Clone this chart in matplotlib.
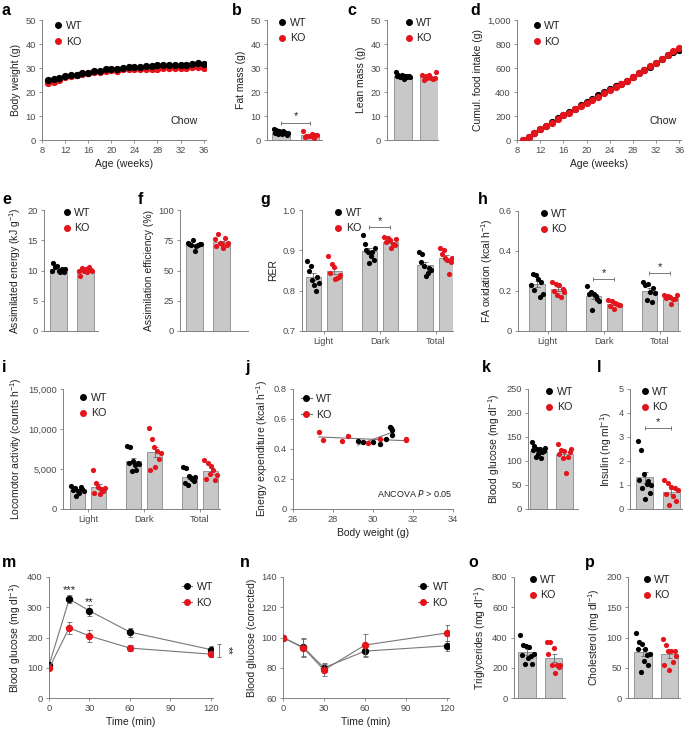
import numpy as np
import matplotlib.pyplot as plt
from matplotlib.lines import Line2D

plt.rcParams['font.family'] = ['Liberation Sans', 'DejaVu Sans']
plt.rcParams['mathtext.default'] = 'regular'

W, H = 685, 731
BLACK, RED = '#000000', '#e3141b'
BAR, BAREDGE = '#c8c8c8', '#8a8a8a'
SPINE, TICK, LAB, ERR, LINE = '#808080', '#4a4a4a', '#222222', '#666666', '#777777'

# ---------- data ----------
weeks = [9, 10, 11, 12, 13, 14, 15, 16, 17, 18, 19, 20, 21, 22,
         23, 24, 25, 26, 27, 28, 29, 30, 31, 32, 33, 34, 35, 36]
bw_wt = [25.0, 25.3, 26.0, 26.5, 27.0, 27.2, 27.8, 28.0, 28.6, 28.6, 29.4, 29.6, 29.5, 30.2,
         30.4, 30.5, 30.3, 30.8, 30.9, 31.1, 31.2, 31.2, 31.3, 31.3, 31.4, 31.6, 32.0, 31.7]
bw_ko = [23.8, 24.2, 24.9, 26.2, 26.6, 26.9, 27.5, 27.8, 28.2, 28.3, 28.8, 29.0, 28.8, 29.4,
         29.5, 29.4, 29.5, 29.4, 29.6, 29.7, 30.0, 30.0, 30.0, 30.1, 30.2, 30.3, 30.3, 30.2]

fat_wt = [4.5, 3.0, 4.2, 2.6, 3.8, 3.3, 2.4, 3.9, 3.5, 2.8, 2.2, 2.9]
fat_ko = [3.9, 1.4, 1.7, 1.8, 1.6, 2.5, 0.8, 2.0, 1.9]
lean_wt = [28.5, 26.5, 27.2, 26.2, 26.8, 27.0, 25.3, 26.8, 26.5, 26.2, 26.6, 26.4]
lean_ko = [27.0, 25.2, 26.8, 25.7, 26.9, 25.8, 25.3, 26.0, 28.3]

food_wt = [0, 28, 57, 90, 120, 150, 182, 212, 235, 262, 290, 318, 345, 372,
           400, 428, 450, 470, 495, 525, 555, 582, 612, 645, 675, 705, 730, 750]
food_ko = [0, 25, 55, 88, 118, 145, 175, 205, 228, 255, 282, 308, 335, 362,
           390, 418, 442, 465, 492, 522, 555, 582, 615, 645, 678, 708, 738, 765]

energy_wt = [9.9, 11.2, 10.5, 10.8, 10.0, 9.7, 10.2, 9.8, 10.3]
energy_ko = [10.0, 9.1, 10.4, 9.9, 10.2, 9.8, 10.6, 10.1, 10.0]
eff_wt = [73, 72, 71, 75, 66, 70, 71, 72, 72]
eff_ko = [76, 70, 80, 73, 72, 69, 77, 71, 73]

groups = ['Light', 'Dark', 'Total']
rer_wt = [[0.873, 0.848, 0.860, 0.826, 0.814, 0.800, 0.835, 0.820],
          [0.938, 0.915, 0.900, 0.897, 0.869, 0.885, 0.895, 0.875, 0.905],
          [0.896, 0.870, 0.890, 0.860, 0.836, 0.845, 0.855, 0.850]]
rer_ko = [[0.886, 0.845, 0.867, 0.858, 0.830, 0.832, 0.835, 0.840],
          [0.933, 0.920, 0.930, 0.925, 0.905, 0.915, 0.912, 0.928],
          [0.906, 0.890, 0.900, 0.880, 0.875, 0.841, 0.870, 0.880]]
fa_wt = [[0.232, 0.287, 0.204, 0.279, 0.262, 0.171, 0.246, 0.187],
         [0.224, 0.187, 0.196, 0.104, 0.184, 0.175, 0.162, 0.150],
         [0.246, 0.229, 0.154, 0.237, 0.196, 0.146, 0.215, 0.190]]
fa_ko = [[0.246, 0.200, 0.234, 0.179, 0.229, 0.171, 0.212, 0.196],
         [0.154, 0.125, 0.150, 0.109, 0.140, 0.137, 0.129, 0.132],
         [0.179, 0.165, 0.175, 0.170, 0.137, 0.162, 0.158, 0.180]]
loco_wt = [[2900, 2400, 2600, 1650, 2200, 2000, 2750, 2500, 2300],
           [7900, 5700, 7750, 4700, 6000, 5500, 4900, 5800, 5600],
           [5300, 3200, 5100, 3000, 4100, 3900, 3700, 3500, 4000]]
loco_ko = [[4900, 2050, 3300, 2750, 1900, 2500, 2300, 2600],
           [10100, 4900, 8700, 7700, 5300, 7200, 6300, 7000],
           [6100, 3700, 5800, 4400, 5400, 4900, 3600, 4200]]

ee_bw_wt = [29.23, 29.52, 30.02, 30.35, 30.63, 30.85, 30.90, 30.97, 30.97]
ee_wt = [0.453, 0.444, 0.444, 0.433, 0.467, 0.549, 0.538, 0.527, 0.493]
ee_bw_ko = [27.30, 27.52, 28.43, 28.73, 29.73, 30.35, 31.65, 31.65]
ee_ko = [0.513, 0.460, 0.455, 0.489, 0.438, 0.465, 0.467, 0.458]

glu_wt = [140, 122, 131, 109, 126, 115, 124, 106, 119, 121, 127]
glu_ko = [136, 115, 122, 106, 121, 76, 109, 118, 124]
ins_wt = [2.85, 1.19, 2.47, 0.87, 1.47, 0.42, 1.05, 1.15, 0.66, 1.00]
ins_ko = [1.22, 0.64, 1.08, 0.15, 0.91, 0.53, 0.87, 0.32, 0.80]

gtt_t = [0, 15, 30, 60, 120]
gtt_wt = [108, 327, 288, 218, 160]
gtt_wt_err = [6, 12, 18, 15, 12]
gtt_ko = [98, 232, 205, 165, 145]
gtt_ko_err = [5, 20, 20, 10, 10]
gttc_wt = [100, 93.5, 80, 91, 94.5]
gttc_wt_err = [0, 6, 3, 4, 3.5]
gttc_ko = [100, 93, 78.5, 95, 103]
gttc_ko_err = [0, 6, 4, 7, 5.5]

tg_wt = [417, 284, 350, 228, 345, 262, 339, 279, 228, 290]
tg_ko = [372, 290, 372, 221, 332, 166, 217, 206, 221]
chol_wt = [108, 81, 93, 43, 90, 61, 81, 71, 55, 72]
chol_ko = [97, 55, 88, 78, 47, 77, 60, 77, 70]

# ---------- helpers ----------
fig = plt.figure(figsize=(W / 100, H / 100), dpi=100)


def box(x0, y0, x1, y1):
    return fig.add_axes([x0 / W, 1 - y1 / H, (x1 - x0) / W, (y1 - y0) / H])


def style(ax, ylab, ticks, labels, ylim):
    for s in ('top', 'right'):
        ax.spines[s].set_visible(False)
    for s in ('left', 'bottom'):
        ax.spines[s].set_color(SPINE)
        ax.spines[s].set_linewidth(0.7)
    ax.set_ylim(ylim)
    ax.set_yticks(ticks)
    ax.set_yticklabels(labels)
    ax.tick_params(color=SPINE, labelcolor=TICK, labelsize=6.7, length=2.5, width=0.6, pad=2)
    ax.set_ylabel(ylab, fontsize=7.5, color=LAB, labelpad=3)


def letter(x, y, t):
    fig.text(x / W, 1 - y / H, t, fontsize=11.5, fontweight='bold', va='top', ha='left')


def legend(ax, x, y, loc='upper left', line=False):
    h = []
    for c, lab in ((BLACK, 'WT'), (RED, 'KO')):
        h.append(Line2D([], [], color=LINE if line else 'none', lw=0.8, marker='o',
                        mfc=c, mec=c, ms=4, label=lab))
    ax.legend(handles=h, loc=loc, bbox_to_anchor=(x, y), frameon=False, fontsize=7.7,
              handlelength=1.0 if line else 0.6, handletextpad=0.4, labelspacing=0.55,
              borderpad=0, borderaxespad=0, labelcolor=LAB)


def bar_dots(ax, x, vals, width, color):
    v = np.asarray(vals, dtype=float)
    m = v.mean()
    se = v.std(ddof=1) / np.sqrt(len(v))
    ax.bar(x, m, width=width, color=BAR, edgecolor=BAREDGE, linewidth=0.6, zorder=1)
    ax.errorbar(x, m, yerr=se, color=ERR, capsize=1.8, elinewidth=0.6, capthick=0.6, zorder=2)
    xs = x + np.linspace(-0.4, 0.4, len(v)) * width
    ax.scatter(xs, v, s=14, color=color, linewidths=0, zorder=3)


def two_bar(ax, wt, ko, xlim=(-0.55, 1.45), width=0.65):
    bar_dots(ax, 0, wt, width, BLACK)
    bar_dots(ax, 1, ko, width, RED)
    ax.set_xlim(xlim)
    ax.set_xticks([])


def group_bars(ax, wt, ko, xlim, off=0.19, width=0.27):
    for g in range(3):
        bar_dots(ax, g - off, wt[g], width, BLACK)
        bar_dots(ax, g + off, ko[g], width, RED)
    ax.set_xlim(xlim)
    ax.set_xticks(range(3))
    ax.set_xticklabels(groups, fontsize=7.5, color=LAB)


def sig(ax, x0, x1, y, dy, text='*'):
    ax.plot([x0, x1], [y, y], color=ERR, lw=0.6, marker='|', ms=3.5, mew=0.6, zorder=4)
    ax.text((x0 + x1) / 2, y + dy, text, ha='center', va='bottom', fontsize=8, color=LAB)


# ---------- a ----------
ax = box(42, 20, 206, 140)
ax.plot(weeks, bw_wt, 'o', color=BLACK, ms=4.2, zorder=3)
ax.plot(weeks, bw_ko, 'o', color=RED, ms=4.2, zorder=2)
style(ax, 'Body weight (g)', [0, 10, 20, 30, 40, 50], ['0', '10', '20', '30', '40', '50'], (0, 50))
ax.set_xlim(8, 36.4)
ax.set_xticks([8, 12, 16, 20, 24, 28, 32, 36])
ax.set_xlabel('Age (weeks)', fontsize=7.5, color=LAB, labelpad=3)
ax.text(0.95, 0.13, 'Chow', transform=ax.transAxes, ha='right', fontsize=7.7, color=LAB)
legend(ax, 0.08, 0.99)
letter(2, 3, 'a')

# ---------- b ----------
ax = box(267, 20, 322, 140)
two_bar(ax, fat_wt, fat_ko, xlim=(-0.48, 1.41), width=0.62)
style(ax, 'Fat mass (g)', [0, 10, 20, 30, 40, 50], ['0', '10', '20', '30', '40', '50'], (0, 50))
sig(ax, 0, 1, 7.2, 0.6)
legend(ax, 0.22, 1.02)
letter(232, 3, 'b')

# ---------- c ----------
ax = box(387, 20, 438, 140)
two_bar(ax, lean_wt, lean_ko, xlim=(-0.6, 1.33), width=0.68)
style(ax, 'Lean mass (g)', [0, 10, 20, 30, 40, 50], ['0', '10', '20', '30', '40', '50'], (0, 50))
legend(ax, 0.36, 1.02)
letter(347, 3, 'c')

# ---------- d ----------
ax = box(517, 20, 681, 140)
ax.plot(weeks, food_wt, 'o', color=BLACK, ms=4.2, zorder=2)
ax.plot(weeks, food_ko, 'o', color=RED, ms=4.2, zorder=3)
style(ax, 'Cumul. food intake (g)', [0, 200, 400, 600, 800, 1000],
      ['0', '200', '400', '600', '800', '1,000'], (0, 1000))
ax.set_xlim(8, 36.3)
ax.set_xticks([8, 12, 16, 20, 24, 28, 32, 36])
ax.set_xlabel('Age (weeks)', fontsize=7.5, color=LAB, labelpad=3)
ax.text(0.975, 0.13, 'Chow', transform=ax.transAxes, ha='right', fontsize=7.7, color=LAB)
legend(ax, 0.1, 0.99)
letter(470, 3, 'd')

# ---------- e ----------
ax = box(44, 210, 98, 331)
two_bar(ax, energy_wt, energy_ko, xlim=(-0.54, 1.46), width=0.63)
style(ax, 'Assimilated energy (kJ g$^{-1}$)', [0, 5, 10, 15, 20], ['0', '5', '10', '15', '20'], (0, 20))
legend(ax, 0.36, 1.02)
letter(2, 192, 'e')

# ---------- f ----------
ax = box(180, 210, 248, 331)
two_bar(ax, eff_wt, eff_ko, xlim=(-0.54, 1.98), width=0.63)
style(ax, 'Assimilation efficiency (%)', [0, 25, 50, 75, 100], ['0', '25', '50', '75', '100'], (0, 100))
letter(138, 192, 'f')

# ---------- g ----------
ax = box(302, 210, 453, 331)
group_bars(ax, rer_wt, rer_ko, xlim=(-0.39, 2.31))
style(ax, 'RER', [0.7, 0.8, 0.9, 1.0], ['0.7', '0.8', '0.9', '1.0'], (0.7, 1.0))
sig(ax, 1 - 0.19, 1 + 0.19, 0.958, 0.003)
legend(ax, 0.22, 1.02)
letter(260, 192, 'g')

# ---------- h ----------
ax = box(518, 211, 680, 331)
group_bars(ax, fa_wt, fa_ko, xlim=(-0.53, 2.36))
style(ax, 'FA oxidation (kcal h$^{-1}$)', [0, 0.2, 0.4, 0.6], ['0', '0.2', '0.4', '0.6'], (0, 0.6))
sig(ax, 1 - 0.19, 1 + 0.19, 0.259, 0.006)
sig(ax, 2 - 0.19, 2 + 0.19, 0.291, 0.006)
legend(ax, 0.14, 1.02)
letter(478, 192, 'h')

# ---------- i ----------
ax = box(63, 389, 220, 509)
group_bars(ax, loco_wt, loco_ko, xlim=(-0.45, 2.36))
style(ax, 'Locomotor activity (counts h$^{-1}$)', [0, 5000, 10000, 15000],
      ['0', '5,000', '10,000', '15,000'], (0, 15000))
legend(ax, 0.11, 0.97)
letter(2, 360, 'i')

# ---------- j ----------
ax = box(293, 389, 453, 509)
for bx, ey, c in ((ee_bw_ko, ee_ko, RED), (ee_bw_wt, ee_wt, BLACK)):
    k, b0 = np.polyfit(bx, ey, 1)
    xx = np.array([min(bx), max(bx)])
    ax.plot(xx, k * xx + b0, color=LINE, lw=0.8, zorder=1)
    ax.scatter(bx, ey, s=15, color=c, linewidths=0, zorder=3)
style(ax, 'Energy expenditure (kcal h$^{-1}$)', [0, 0.2, 0.4, 0.6, 0.8],
      ['0', '0.2', '0.4', '0.6', '0.8'], (0, 0.8))
ax.set_xlim(26, 34)
ax.set_xticks([26, 28, 30, 32, 34])
ax.set_xlabel('Body weight (g)', fontsize=7.5, color=LAB, labelpad=3)
ax.text(0.995, 0.1, 'ANCOVA $\\mathit{P}$ > 0.05', transform=ax.transAxes, ha='right',
        fontsize=6.5, color=LAB)
legend(ax, 0.05, 0.96, line=True)
letter(245, 360, 'j')

# ---------- k ----------
ax = box(528, 389, 578, 509)
two_bar(ax, glu_wt, glu_ko, xlim=(-0.4, 1.52), width=0.65)
style(ax, 'Blood glucose (mg dl$^{-1}$)', [0, 50, 100, 150, 200, 250],
      ['0', '50', '100', '150', '200', '250'], (0, 250))
legend(ax, 0.36, 1.02)
letter(482, 360, 'k')

# ---------- l ----------
ax = box(630, 389, 682, 509)
two_bar(ax, ins_wt, ins_ko, xlim=(-0.55, 1.41), width=0.65)
style(ax, 'Insulin (ng ml$^{-1}$)', [0, 1, 2, 3, 4, 5], ['0', '1', '2', '3', '4', '5'], (0, 5))
sig(ax, 0, 1, 3.37, 0.06)
legend(ax, 0.22, 1.02)
letter(597, 360, 'l')

# ---------- m ----------
ax = box(49, 577, 213, 698)
for y, e, c, z in ((gtt_wt, gtt_wt_err, BLACK, 3), (gtt_ko, gtt_ko_err, RED, 4)):
    ax.errorbar(gtt_t, y, yerr=e, color=LINE, lw=0.8, ecolor=ERR, elinewidth=0.6, capsize=1.8,
                capthick=0.6, marker='o', mfc=c, mec=c, ms=4.3, zorder=z)
style(ax, 'Blood glucose (mg dl$^{-1}$)', [0, 100, 200, 300, 400],
      ['0', '100', '200', '300', '400'], (0, 400))
ax.set_xlim(0, 121.5)
ax.set_xticks([0, 30, 60, 90, 120])
ax.set_xlabel('Time (min)', fontsize=7.5, color=LAB, labelpad=3)
ax.text(15, 340, '***', ha='center', va='bottom', fontsize=8, color=LAB)
ax.text(30, 302, '**', ha='center', va='bottom', fontsize=8, color=LAB)
ax.plot([126, 126], [136, 177], color=ERR, lw=0.6, marker='_', ms=3.5, mew=0.6, clip_on=False)
ax.text(129, 156, '**', rotation=270, ha='left', va='center', fontsize=8, color=LAB)
legend(ax, 1.0, 0.96, loc='upper right', line=True)
letter(2, 555, 'm')

# ---------- n ----------
ax = box(283, 577, 449, 698)
for y, e, c, z in ((gttc_wt, gttc_wt_err, BLACK, 3), (gttc_ko, gttc_ko_err, RED, 4)):
    ax.errorbar(gtt_t, y, yerr=e, color=LINE, lw=0.8, ecolor=ERR, elinewidth=0.6, capsize=1.8,
                capthick=0.6, marker='o', mfc=c, mec=c, ms=4.3, zorder=z)
style(ax, 'Blood glucose (corrected)', [60, 80, 100, 120, 140],
      ['60', '80', '100', '120', '140'], (60, 140))
ax.set_xlim(0, 121.5)
ax.set_xticks([0, 30, 60, 90, 120])
ax.set_xlabel('Time (min)', fontsize=7.5, color=LAB, labelpad=3)
legend(ax, 1.0, 0.96, loc='upper right', line=True)
letter(240, 555, 'n')

# ---------- o ----------
ax = box(514, 577, 565, 698)
two_bar(ax, tg_wt, tg_ko, xlim=(-0.49, 1.43), width=0.65)
style(ax, 'Triglycerides (mg dl$^{-1}$)', [0, 200, 400, 600, 800],
      ['0', '200', '400', '600', '800'], (0, 800))
legend(ax, 0.3, 1.02)
letter(468, 555, 'o')

# ---------- p ----------
ax = box(628, 577, 680, 698)
two_bar(ax, chol_wt, chol_ko, xlim=(-0.57, 1.4), width=0.65)
style(ax, 'Cholesterol (mg dl$^{-1}$)', [0, 50, 100, 150, 200],
      ['0', '50', '100', '150', '200'], (0, 200))
legend(ax, 0.3, 1.02)
letter(585, 555, 'p')

fig.savefig('out.png', dpi=100)
